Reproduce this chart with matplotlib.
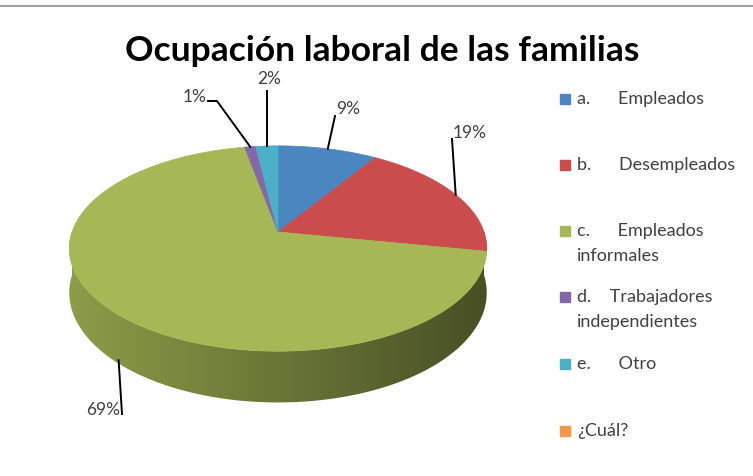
import numpy as np
import matplotlib.pyplot as plt
from matplotlib.colors import to_rgb
from matplotlib.patches import Rectangle, Polygon

# data
categories = ["a.      Empleados", "b.      Desempleados", "c.      Empleados\ninformales",
              "d.    Trabajadores\nindependientes", "e.      Otro", "\u00bfCu\u00e1l?"]
values = [9, 19, 69, 1, 2, 0]
colors = ["#4A86C0", "#CB4C4C", "#A6B855", "#8467A8", "#4BAFC8", "#F79646"]
title = "Ocupaci\u00f3n laboral de las familias"

# pie geometry (pixels), simple perspective
CX, CY = 278, 233
A, B, K, DEPTH = 206, 100, 0.161, 43


def proj(t, z=0.0):
    t = np.radians(t)
    X, Y = np.cos(t), np.sin(t)
    w = 1 + K * Y
    return CX + A * X / w, CY - B * Y / w + DEPTH * z / w


fig = plt.figure(figsize=(7.53, 4.77), dpi=100)
ax = fig.add_axes([0, 0, 1, 1])
ax.set_xlim(0, 753)
ax.set_ylim(477, 0)
ax.axis("off")

# top gray rule
ax.plot([0, 753], [7, 7], color="#a0a0a0", lw=1.5)

total = sum(values)
starts, ends = [], []
ang = 90.0
for v in values:
    starts.append(ang)
    ang -= 360.0 * v / total
    ends.append(ang)

# side band (front half): shaded gradient clipped to the band outline
ts = np.linspace(-180, 0, 361)
top = [proj(t) for t in ts]
bot = [proj(t, 1) for t in ts[::-1]]
band = Polygon(top + bot, closed=True, transform=ax.transData, fc="none", ec="none")
ax.add_patch(band)
x0 = min(p[0] for p in top) - 2
x1 = max(p[0] for p in top) + 2
xs = np.linspace(x0, x1, 400)
c = np.clip((xs - CX) / (A * 1.013), -1, 1)
f = 0.64 - 0.21 * c
grad = np.clip(np.outer(f, to_rgb(colors[2])), 0, 1)[None, :, :]
img = ax.imshow(grad, extent=[x0, x1, 420, 140], aspect="auto",
                interpolation="bilinear", zorder=1)
img.set_clip_path(band)
ax.set_xlim(0, 753)
ax.set_ylim(477, 0)

# top face
for i, (s, e) in enumerate(zip(starts, ends)):
    if values[i] == 0:
        continue
    tt = np.linspace(s, e, max(4, int(abs(s - e) * 2)))
    pts = [proj(t) for t in tt]
    px = [CX] + [p[0] for p in pts]
    py = [CY] + [p[1] for p in pts]
    ax.fill(px, py, color=colors[i], lw=0.5, ec=colors[i], zorder=2)

# percentage labels with leader lines
label_kw = dict(fontsize=12.5, color="#404040", family="Lato")
mids = [(s + e) / 2 for s, e in zip(starts, ends)]

# 9%
x, y = proj(mids[0])
ax.plot([x, 335], [y, 117], color="black", lw=1.4, zorder=3)
ax.text(336, 109, f"{values[0]}%", ha="left", va="center", **label_kw)
# 19%
x, y = proj(mids[1])
ax.plot([x, 452], [y, 140], color="black", lw=1.4, zorder=3)
ax.text(453, 133, f"{values[1]}%", ha="left", va="center", **label_kw)
# 69%
x, y = proj(mids[2], 1)
ax.plot([x + 5, 122], [y, 415], color="black", lw=1.4, zorder=3)
ax.text(120, 410, f"{values[2]}%", ha="right", va="center", **label_kw)
# 1%
x, y = proj(mids[3])
ax.plot([x, 217, 208], [y, 102, 102], color="black", lw=1.4, zorder=3)
ax.text(207, 97, f"{values[3]}%", ha="right", va="center", **label_kw)
# 2%
x, y = proj(mids[4])
ax.plot([x, x], [y, 92], color="black", lw=1.4, zorder=3)
ax.text(x + 2, 79, f"{values[4]}%", ha="center", va="center", **label_kw)

# title
ax.text(382, 51, title, ha="center", va="center", fontsize=25.5,
        fontweight="bold", family="Lato", color="black")

# legend
leg_y = [100, 166, 232, 298, 365, 432]
for lab, col, ly in zip(categories, colors, leg_y):
    ax.add_patch(Rectangle((560, ly - 5), 10, 10, color=col))
    ax.text(577, ly - 9, lab, ha="left", va="top", fontsize=13, color="#404040",
            family="Lato", linespacing=1.7)

fig.savefig("out.png", dpi=100)
